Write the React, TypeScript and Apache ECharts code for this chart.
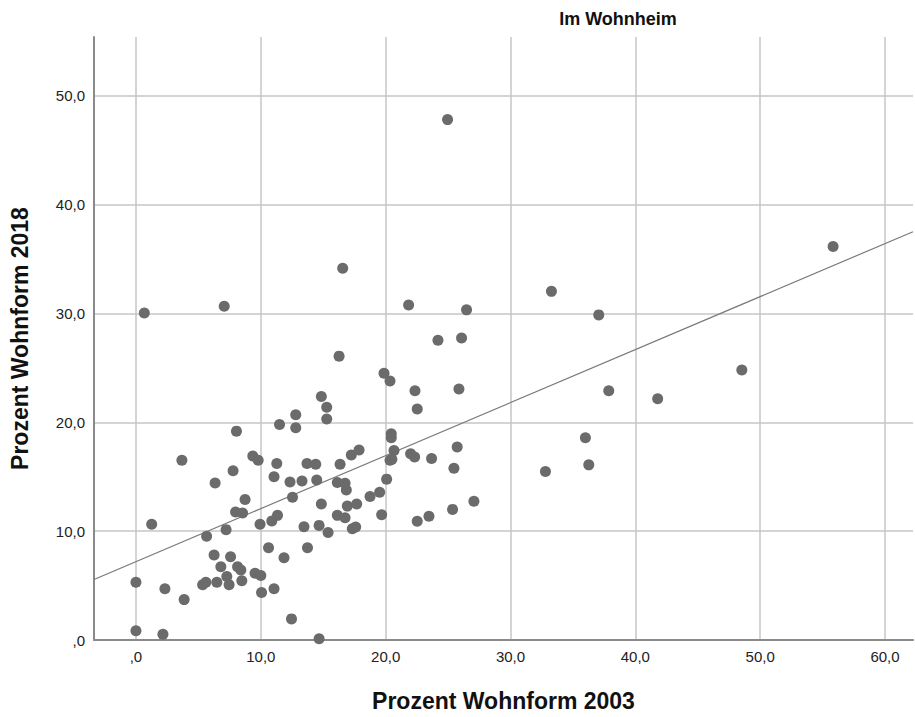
import React, { useEffect, useRef } from "react";
import * as echarts from "echarts";

const chartTitle = "Im Wohnheim";
const xAxisTitle = "Prozent Wohnform 2003";
const yAxisTitle = "Prozent Wohnform 2018";

// Prozent Wohnform 2003 (x) for each case
const x2003 = [
  7.78, 6.34, 11.06, 12.34, 13.3, 8.74, 12.54, 7.98, 8.54, 1.26,
  9.94, 10.88, 11.34, 13.46, 5.66, 7.22, 10.62, 13.74, 6.26, 7.58,
  11.86, 6.8, 8.14, 8.4, 9.54, 10.0, 0.0, 2.32, 5.6, 5.34,
  6.48, 7.28, 7.46, 8.48, 10.06, 11.06, 3.86, 12.46, 0.0, 2.16,
  0.67, 7.07, 12.8, 11.5, 12.8, 8.05, 3.68, 9.36, 9.79, 11.28,
  13.7, 16.27, 24.19, 26.08, 19.87, 20.35, 22.35, 25.87, 22.53, 14.85,
  15.28, 15.28, 20.45, 20.45, 20.67, 20.35, 20.5, 22.0, 22.32, 23.68,
  25.73, 25.47, 14.4, 16.35, 17.25, 17.87, 14.48, 16.13, 16.75, 16.85,
  14.85, 16.13, 16.75, 16.93, 17.68, 18.75, 19.52, 20.08, 19.68, 22.53,
  23.47, 25.36, 27.07, 14.67, 15.39, 17.33, 17.6, 14.67, 33.28, 37.07,
  48.53, 37.87, 41.79, 36.0, 36.27, 32.8, 24.96, 16.56, 21.84, 26.48,
  55.84,
];

// Prozent Wohnform 2018 (y) for each case
const y2018 = [
  15.55, 14.42, 15.0, 14.51, 14.6, 12.91, 13.11, 11.75, 11.66, 10.63,
  10.63, 10.93, 11.45, 10.4, 9.54, 10.14, 8.47, 8.47, 7.81, 7.65,
  7.56, 6.74, 6.74, 6.44, 6.13, 5.92, 5.31, 4.71, 5.31, 5.07,
  5.31, 5.83, 5.07, 5.44, 4.37, 4.71, 3.71, 1.94, 0.85, 0.52,
  30.05, 30.66, 20.7, 19.8, 19.49, 19.19, 16.51, 16.91, 16.51, 16.21,
  16.21, 26.08, 27.53, 27.75, 24.5, 23.8, 22.89, 23.07, 21.22, 22.38,
  21.38, 20.31, 18.94, 18.58, 17.42, 16.51, 16.6, 17.12, 16.82, 16.67,
  17.73, 15.78, 16.15, 16.15, 17.0, 17.46, 14.69, 14.48, 14.39, 13.78,
  12.5, 11.45, 11.23, 12.3, 12.5, 13.18, 13.57, 14.78, 11.5, 10.9,
  11.36, 12.0, 12.75, 10.53, 9.87, 10.23, 10.38, 0.12, 32.03, 29.87,
  24.8, 22.89, 22.16, 18.58, 16.09, 15.48, 47.81, 34.15, 30.78, 30.33,
  36.16,
];

// Linear fit line (intercept, slope)
const fitCoefficients = [7.2, 0.487];

const xRange = [-3.36, 62.24];
const yRange = [0, 55.4];

const fmt = (v: number) => {
  if (v === 0) return ",0";
  return v.toFixed(1).replace(".", ",");
};

export default function App() {
  const ref = useRef<HTMLDivElement>(null);

  useEffect(() => {
    if (!ref.current) return;
    const chart = echarts.init(ref.current, undefined, { renderer: "svg" });
    const points = x2003.map((x, i) => [x, y2018[i]]);
    const [b0, b1] = fitCoefficients;
    const fitData = xRange.map((x) => [x, b0 + b1 * x]);
    const font = "'Liberation Sans', Arial, Helvetica, sans-serif";

    chart.setOption({
      animation: false,
      backgroundColor: "#ffffff",
      textStyle: { fontFamily: font },
      grid: { left: 93, right: 2, top: 37, bottom: 71, containLabel: false },
      graphic: [
        {
          type: "text",
          x: 618,
          y: 19,
          style: {
            text: chartTitle,
            font: `bold 18px ${font}`,
            fill: "#111111",
            textAlign: "center",
            textVerticalAlign: "middle",
          },
        },
      ],
      xAxis: {
        type: "value",
        min: xRange[0],
        max: xRange[1],
        splitNumber: 6,
        name: xAxisTitle,
        nameLocation: "middle",
        nameGap: 49,
        nameTextStyle: { fontSize: 23, fontWeight: "bold", color: "#111", fontFamily: font },
        axisLine: { show: true, onZero: false, lineStyle: { color: "#8a8a8a", width: 2 } },
        axisTick: { show: false },
        axisLabel: {
          showMinLabel: false,
          showMaxLabel: false,
          margin: 9,
          fontSize: 15,
          color: "#222",
          fontFamily: font,
          formatter: (v: number) => fmt(v),
        },
        splitLine: {
          show: true,
          showMinLine: false,
          showMaxLine: false,
          lineStyle: { color: "#c6c6c6", width: 1.5 },
        },
      },
      yAxis: {
        type: "value",
        min: yRange[0],
        max: yRange[1],
        splitNumber: 6,
        name: yAxisTitle,
        nameLocation: "middle",
        nameGap: 63,
        nameTextStyle: { fontSize: 23, fontWeight: "bold", color: "#111", fontFamily: font },
        axisLine: { show: true, onZero: false, lineStyle: { color: "#8a8a8a", width: 2 } },
        axisTick: { show: false },
        axisLabel: {
          showMaxLabel: false,
          margin: 9,
          fontSize: 15,
          color: "#222",
          fontFamily: font,
          formatter: (v: number) => fmt(v),
        },
        splitLine: {
          show: true,
          showMinLine: false,
          showMaxLine: false,
          lineStyle: { color: "#c6c6c6", width: 1.5 },
        },
      },
      series: [
        {
          type: "line",
          data: fitData,
          symbol: "none",
          silent: true,
          z: 3,
          lineStyle: { color: "#7a7a7a", width: 1.2 },
        },
        {
          type: "scatter",
          data: points,
          symbol: "circle",
          symbolSize: 11,
          z: 4,
          itemStyle: { color: "#6b6b6b", opacity: 1 },
        },
      ],
    });

    return () => chart.dispose();
  }, []);

  return (
    <div
      ref={ref}
      style={{ position: "fixed", left: 0, top: 0, width: 915, height: 717, background: "#fff" }}
    />
  );
}
